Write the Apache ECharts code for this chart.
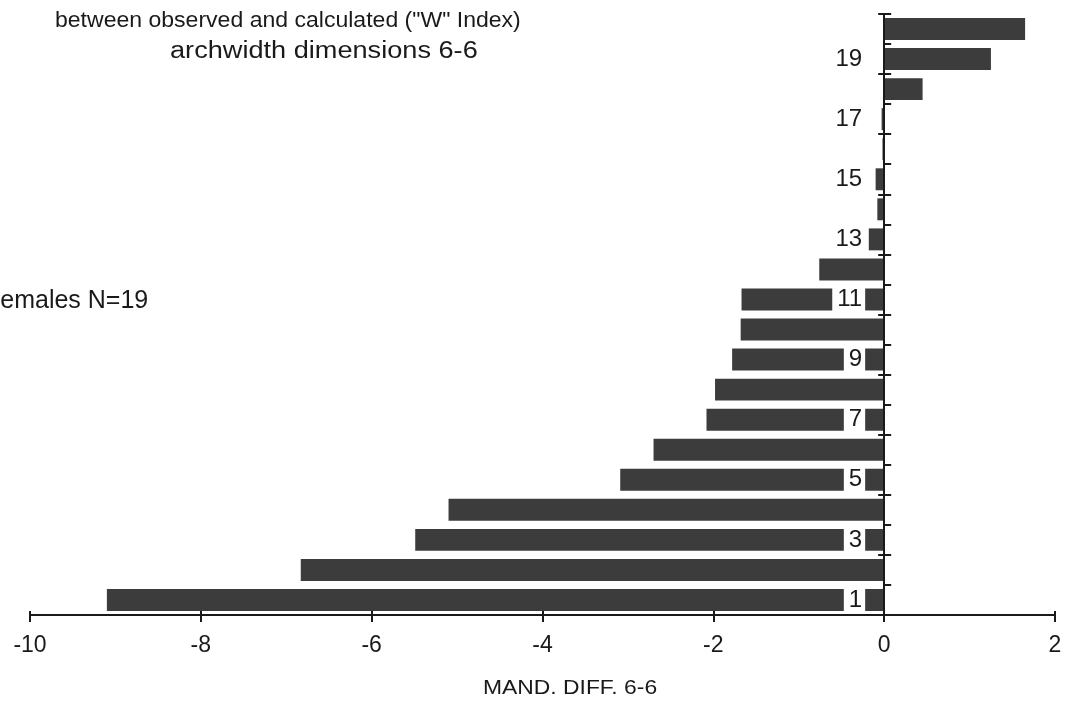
<!DOCTYPE html>
<html>
<head>
<meta charset="utf-8">
<script src="https://cdn.jsdelivr.net/npm/echarts@6/dist/echarts.min.js"></script>
<style>
  html, body { margin: 0; padding: 0; background: #fff; }
  #chart { width: 1067px; height: 714px; }
</style>
</head>
<body>
<div id="chart"></div>
<script>
// Case numbers, bottom to top
const cases = ['1','2','3','4','5','6','7','8','9','10','11','12','13','14','15','16','17','18','19','20'];
// Observed minus calculated arch width, 6-6 (mm)
const mandDiff = [-9.1, -6.83, -5.49, -5.1, -3.09, -2.7, -2.08, -1.98, -1.78, -1.68,
                  -1.67, -0.76, -0.18, -0.08, -0.1, -0.02, -0.03, 0.45, 1.25, 1.65];
const xTicks = [-10, -8, -6, -4, -2, 0, 2];

const FONT = 'Liberation Sans';
const INK = '#1a1a1a';
const BAR = '#3c3c3c';

const GRID_LEFT = 30, GRID_RIGHT = 12, GRID_TOP = 14, GRID_H = 601;
const W = 1067;
const plotW = W - GRID_LEFT - GRID_RIGHT;
const xMin = xTicks[0], xMax = xTicks[xTicks.length - 1];
// the vertical axis is drawn on the zero line: distances from both plot edges
const zeroFromLeft = plotW * (0 - xMin) / (xMax - xMin);
const zeroFromRight = plotW - zeroFromLeft;

const chart = echarts.init(document.getElementById('chart'));

chart.setOption({
  backgroundColor: '#ffffff',
  animation: false,
  grid: { left: GRID_LEFT, right: GRID_RIGHT, top: GRID_TOP, height: GRID_H,
          containLabel: false, outerBoundsMode: 'none' },
  xAxis: [
    {
      type: 'value', min: xMin, max: xMax, interval: 2, position: 'bottom',
      axisLine: { show: true, onZero: false, lineStyle: { color: INK, width: 2 } },
      axisTick: { show: true, length: 7, lineStyle: { color: INK, width: 2 } },
      axisLabel: { fontFamily: FONT, fontSize: 23, color: INK, margin: 19 },
      splitLine: { show: false }
    },
    {
      // upper half of the crossing ticks
      type: 'value', min: xMin, max: xMax, interval: 2, position: 'bottom',
      axisLine: { show: false, onZero: false },
      axisTick: { show: true, inside: true, length: 4, lineStyle: { color: INK, width: 2 } },
      axisLabel: { show: false },
      splitLine: { show: false }
    }
  ],
  yAxis: [
    {
      type: 'category', data: cases, boundaryGap: true, position: 'left',
      offset: -zeroFromLeft, z: 5,
      axisLine: { show: true, onZero: false, lineStyle: { color: INK, width: 2 } },
      axisTick: { show: true, length: 6, lineStyle: { color: INK, width: 2 } },
      axisLabel: {
        interval: 1, fontFamily: FONT, fontSize: 24, color: INK, margin: 19,
        backgroundColor: '#ffffff', padding: [1, 3, 0, 5], lineHeight: 25
      },
      splitLine: { show: false }
    },
    {
      // right half of the crossing ticks
      type: 'category', data: cases, boundaryGap: true, position: 'right',
      offset: -zeroFromRight, z: 5,
      axisLine: { show: false, onZero: false },
      axisTick: { show: true, length: 7, lineStyle: { color: INK, width: 2 } },
      axisLabel: { show: false },
      splitLine: { show: false }
    }
  ],
  series: [
    {
      type: 'bar', data: mandDiff, xAxisIndex: 0, yAxisIndex: 0,
      barCategoryGap: '27%',
      itemStyle: { color: BAR },
      z: 2
    }
  ],
  graphic: [
    { type: 'text', x: 55, y: 21, scaleX: 1.047,
      style: { text: 'between observed and calculated ("W" Index)', font: '22px "Liberation Sans"',
               fill: INK, align: 'left', verticalAlign: 'middle' } },
    { type: 'text', x: 170, y: 52, scaleX: 1.18,
      style: { text: 'archwidth dimensions 6-6', font: '23px "Liberation Sans"',
               fill: INK, align: 'left', verticalAlign: 'middle' } },
    { type: 'text', x: -15, y: 301,
      style: { text: 'Females N=19', font: '25px "Liberation Sans"',
               fill: INK, align: 'left', verticalAlign: 'middle' } },
    { type: 'text', x: 570, y: 688, scaleX: 1.09,
      style: { text: 'MAND. DIFF. 6-6', font: '21px "Liberation Sans"',
               fill: INK, align: 'center', verticalAlign: 'middle' } }
  ]
});
</script>
</body>
</html>
